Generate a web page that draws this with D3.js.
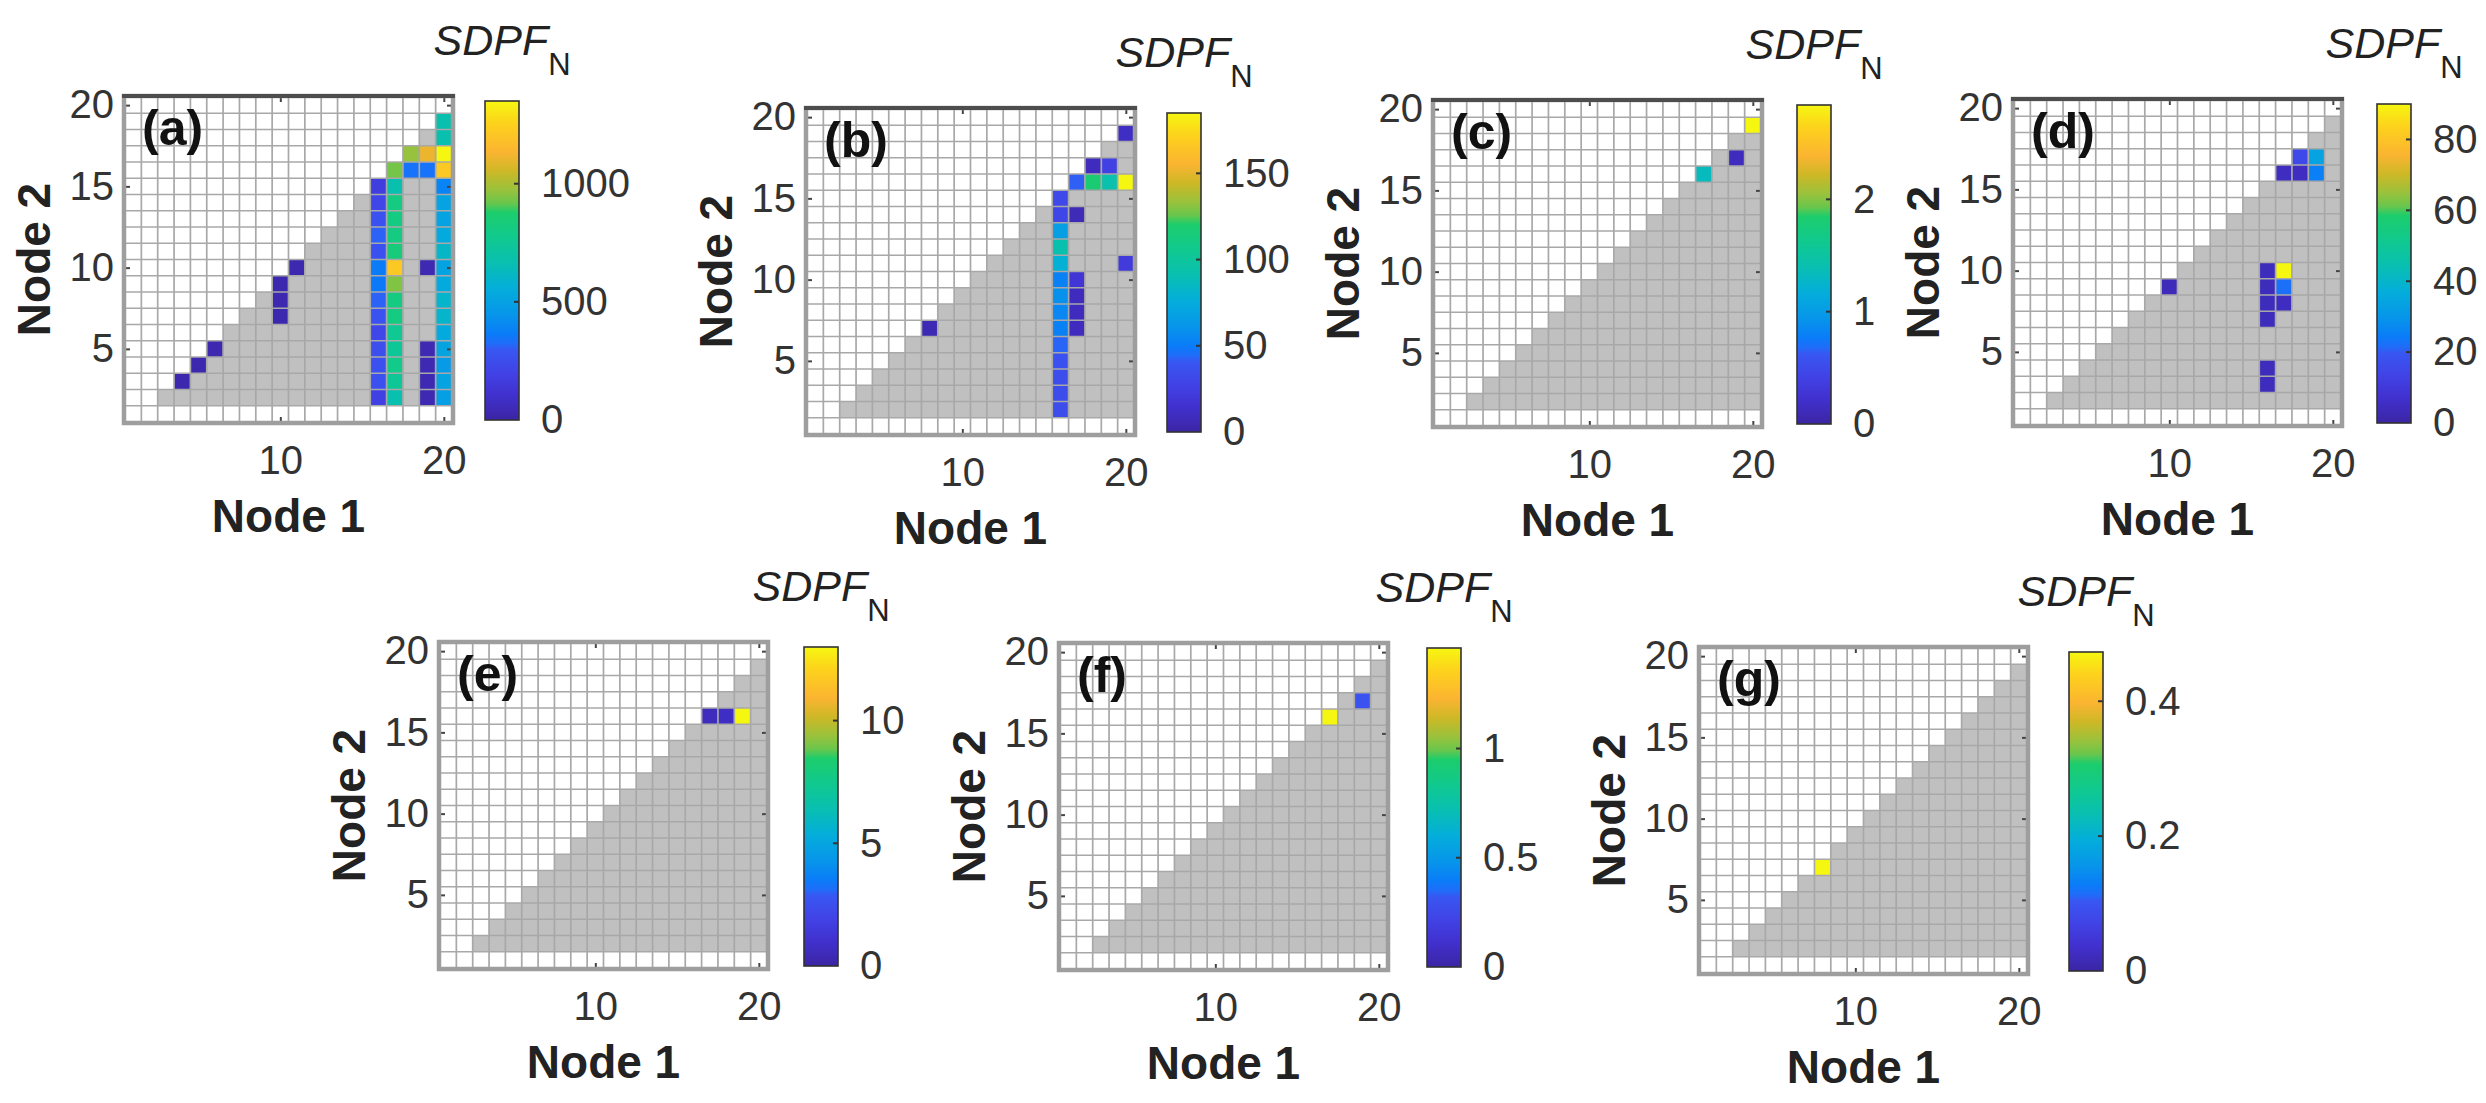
<!DOCTYPE html>
<html>
<head>
<meta charset="utf-8">
<script src="https://cdn.jsdelivr.net/npm/d3@7"></script>
<style>
  html, body { margin: 0; padding: 0; background: #fff; }
  svg text { font-family: "Liberation Sans", Arial, sans-serif; }
</style>
</head>
<body>
<svg id="chart" width="2486" height="1103"></svg>
<script>
// each cell: [Node 1, Node 2, SDPF_N]
const cellsA = [
    [4, 3, 25], [5, 4, 25], [6, 5, 28], [10, 7, 25], [10, 8, 28], [10, 9, 25], [11, 10, 30],
    [16, 2, 190], [16, 3, 265], [16, 4, 265], [16, 5, 260], [16, 6, 220], [16, 7, 275], [16, 8, 310],
    [16, 9, 360], [16, 10, 365], [16, 11, 270], [16, 12, 310], [16, 13, 270], [16, 14, 215], [16, 15, 175],
    [17, 2, 675], [17, 3, 745], [17, 4, 785], [17, 5, 745], [17, 6, 755], [17, 7, 810], [17, 8, 810],
    [17, 9, 945], [17, 10, 1215], [17, 11, 835], [17, 12, 810], [17, 13, 810], [17, 14, 810], [17, 15, 675],
    [17, 16, 930],
    [18, 16, 340], [18, 17, 970],
    [19, 2, 35], [19, 3, 35], [19, 4, 35], [19, 5, 35], [19, 10, 35], [19, 16, 340], [19, 17, 1110],
    [20, 2, 485], [20, 3, 510], [20, 4, 470], [20, 5, 515], [20, 6, 540], [20, 7, 595], [20, 8, 595],
    [20, 9, 540], [20, 10, 510], [20, 11, 605], [20, 12, 540], [20, 13, 510], [20, 14, 510], [20, 15, 390],
    [20, 16, 1215], [20, 17, 1350], [20, 18, 675], [20, 19, 675]
];
const cellsB = [
    [8, 7, 5],
    [16, 2, 34], [16, 3, 34], [16, 4, 34], [16, 5, 37], [16, 6, 43], [16, 7, 52], [16, 8, 55],
    [16, 9, 59], [16, 10, 52], [16, 11, 78], [16, 12, 92], [16, 13, 67], [16, 14, 30], [16, 15, 31],
    [17, 7, 9], [17, 8, 9], [17, 9, 9], [17, 10, 18], [17, 14, 7], [17, 16, 42],
    [18, 16, 117], [18, 17, 9],
    [19, 16, 93], [19, 17, 26],
    [20, 11, 22], [20, 16, 185], [20, 19, 11]
];
const cellsC = [[17, 16, 1.33], [19, 17, 0.14], [20, 19, 2.84]];
const cellsD = [
    [10, 9, 3.5],
    [16, 3, 4], [16, 4, 4], [16, 7, 4], [16, 8, 4], [16, 9, 4], [16, 10, 4],
    [17, 8, 5], [17, 9, 22], [17, 10, 90], [17, 16, 4.5],
    [18, 16, 5], [18, 17, 15],
    [19, 16, 25], [19, 17, 34]
];
const cellsE = [[17, 16, 0.6], [18, 16, 0.75], [19, 16, 13]];
const cellsF = [[17, 16, 1.46], [19, 17, 0.3]];
const cellsG = [[8, 7, 0.473]];

// colour limits and colorbar ticks
const maxValues = [1350, 185, 2.84, 90, 13, 1.46, 0.473];
const barTicksA = [0, 500, 1000];
const barTicksB = [0, 50, 100, 150];
const barTicksC = [0, 1, 2];
const barTicksD = [0, 20, 40, 60, 80];
const barTicksE = [0, 5, 10];
const barTicksF = [0, 0.5, 1];
const barTicksG = [0, 0.2, 0.4];

const panelLabels = ["(a)", "(b)", "(c)", "(d)", "(e)", "(f)", "(g)"];
const node1Ticks = [10, 20];
const node2Ticks = [5, 10, 15, 20];

// parula-like colormap as seen in the figure
const cmapStops = [0, 0.08, 0.15, 0.22, 0.24, 0.27, 0.33, 0.41, 0.49, 0.57, 0.65, 0.68, 0.72, 0.78, 0.84, 0.93, 1];
const cmapColors = ["#3b25a4", "#4131cf", "#4143e6", "#3857f2", "#1f6df9", "#0a7cf8", "#0795ea", "#04addb",
    "#08bfb2", "#10c98f", "#1ccd6c", "#6ac64c", "#98c23c", "#cdb826", "#fbb431", "#fdd21c", "#f6f710"];
const cmap = d3.scaleLinear().domain(cmapStops).range(cmapColors).clamp(true);

const svg = d3.select("#chart");
svg.append("rect").attr("width", 2486).attr("height", 1103).attr("fill", "#fff");

const defs = svg.append("defs");
const grad = defs.append("linearGradient").attr("id", "parula").
    attr("x1", 0).attr("y1", 1).attr("x2", 0).attr("y2", 0);
grad.selectAll("stop").data(cmapStops).enter().append("stop").
    attr("offset", (d) => d).
    attr("stop-color", (d, i) => cmapColors[i]);

const W = 327, H = 325, CBW = 34;

const panels = [
    {cells: cellsA, ticks: barTicksA, left: 125, top: 97, cbLeft: 485, dark: true},
    {cells: cellsB, ticks: barTicksB, left: 807, top: 109, cbLeft: 1167, dark: true},
    {cells: cellsC, ticks: barTicksC, left: 1434, top: 101, cbLeft: 1797, dark: true},
    {cells: cellsD, ticks: barTicksD, left: 2014, top: 100, cbLeft: 2377, dark: true},
    {cells: cellsE, ticks: barTicksE, left: 440, top: 643, cbLeft: 804, dark: false},
    {cells: cellsF, ticks: barTicksF, left: 1060, top: 644, cbLeft: 1427, dark: false},
    {cells: cellsG, ticks: barTicksG, left: 1700, top: 648, cbLeft: 2069, dark: false}
];

// grey region: Node 2 from 2 to 19, Node 1 above it
const mask = [];
d3.range(2, 20).forEach((n2) => {
    d3.range(n2 + 1, 21).forEach((n1) => mask.push([n1, n2]));
});

panels.forEach((p, i) => {

    const maxV = maxValues[i],
        x = d3.scaleLinear().domain([0.5, 20.5]).range([0, W]),
        y = d3.scaleLinear().domain([0.5, 20.5]).range([H, 0]),
        cw = x(1.5) - x(0.5),
        g = svg.append("g").attr("transform", `translate(${p.left},${p.top})`);

    g.append("rect").attr("width", W).attr("height", H).attr("fill", "#fff");

    g.selectAll(".mask").data(mask).enter().append("rect").
        attr("x", (d) => x(d[0] - 0.5)).
        attr("y", (d) => y(d[1] + 0.5)).
        attr("width", cw).
        attr("height", cw).
        attr("fill", "#c0c0c0");

    g.selectAll(".cell").data(p.cells).enter().append("rect").
        attr("x", (d) => x(d[0] - 0.5)).
        attr("y", (d) => y(d[1] + 0.5)).
        attr("width", cw).
        attr("height", cw).
        attr("fill", (d) => cmap(d[2] / maxV));

    const lines = d3.range(0.5, 20.6, 1);
    g.selectAll(".vl").data(lines).enter().append("line").
        attr("x1", (d) => x(d)).attr("x2", (d) => x(d)).
        attr("y1", 0).attr("y2", H).
        attr("stroke", "#a8a8a8").attr("stroke-width", 1.7);
    g.selectAll(".hl").data(lines).enter().append("line").
        attr("y1", (d) => y(d)).attr("y2", (d) => y(d)).
        attr("x1", 0).attr("x2", W).
        attr("stroke", "#a8a8a8").attr("stroke-width", 1.7);

    // inward tick marks on all four sides
    const tickMarks = (axis, tr) => {
        const a = g.append("g").attr("transform", tr).call(axis);
        a.select(".domain").remove();
        a.selectAll("line").attr("stroke", "#444").attr("stroke-width", 2);
        a.selectAll("text").remove();
    };
    tickMarks(d3.axisBottom(x).tickValues(node1Ticks).tickSize(-5), `translate(0,${H})`);
    tickMarks(d3.axisTop(x).tickValues(node1Ticks).tickSize(-5), "translate(0,0)");
    tickMarks(d3.axisLeft(y).tickValues(node2Ticks).tickSize(-5), "translate(0,0)");
    tickMarks(d3.axisRight(y).tickValues(node2Ticks).tickSize(-5), `translate(${W},0)`);

    g.append("rect").attr("x", -1).attr("y", -1).attr("width", W + 2).attr("height", H + 2).
        attr("fill", "none").attr("stroke", "#9e9e9e").attr("stroke-width", 4.5);
    if (p.dark) {
        g.append("line").attr("x1", -3).attr("x2", W + 3).attr("y1", -1).attr("y2", -1).
            attr("stroke", "#4d4d4d").attr("stroke-width", 4);
    }

    // tick labels
    const xa = g.append("g").attr("transform", `translate(0,${H})`).
        call(d3.axisBottom(x).tickValues(node1Ticks).tickSize(0).tickPadding(24));
    const ya = g.append("g").
        call(d3.axisLeft(y).tickValues(node2Ticks).tickSize(0).tickPadding(11));
    [xa, ya].forEach((a) => {
        a.select(".domain").remove();
        a.selectAll("text").attr("font-size", 40).attr("fill", "#333").
            attr("font-family", "'Liberation Sans', Arial, sans-serif");
    });

    g.append("text").attr("x", W / 2).attr("y", H + 110).
        attr("text-anchor", "middle").attr("font-size", 46).attr("font-weight", "bold").
        attr("fill", "#222").text("Node 1");
    g.append("text").attr("transform", `translate(-75,${H / 2}) rotate(-90)`).
        attr("text-anchor", "middle").attr("font-size", 46).attr("font-weight", "bold").
        attr("fill", "#222").text("Node 2");

    g.append("text").attr("x", 17).attr("y", 48).
        attr("font-size", 50).attr("font-weight", "bold").attr("fill", "#111").
        text(panelLabels[i]);

    // colorbar
    const cbTop = 4, cbH = H - 6,
        cx = p.cbLeft - p.left,
        cb = g.append("g").attr("transform", `translate(${cx},${cbTop})`),
        c = d3.scaleLinear().domain([0, maxV]).range([cbH, 0]);
    cb.append("rect").attr("width", CBW).attr("height", cbH).
        attr("fill", "url(#parula)").attr("stroke", "#333").attr("stroke-width", 1.6);
    const ca = cb.append("g").attr("transform", `translate(${CBW},0)`).
        call(d3.axisRight(c).tickValues(p.ticks).tickSize(0).tickPadding(22).tickFormat(d3.format("~g")));
    ca.select(".domain").remove();
    ca.selectAll("text").attr("font-size", 40).attr("fill", "#333").
        attr("font-family", "'Liberation Sans', Arial, sans-serif");
    cb.selectAll(".cbtick").data(p.ticks.filter((t) => t > 0)).enter().append("line").
        attr("x1", CBW - 5).attr("x2", CBW).
        attr("y1", (d) => c(d)).attr("y2", (d) => c(d)).
        attr("stroke", "#333").attr("stroke-width", 2);

    const title = cb.append("text").attr("x", CBW / 2).attr("y", -46).
        attr("text-anchor", "middle").attr("fill", "#222");
    title.append("tspan").attr("font-size", 43).attr("font-style", "italic").text("SDPF");
    title.append("tspan").attr("font-size", 31).attr("dy", 20).text("N");

});
</script>
</body>
</html>
